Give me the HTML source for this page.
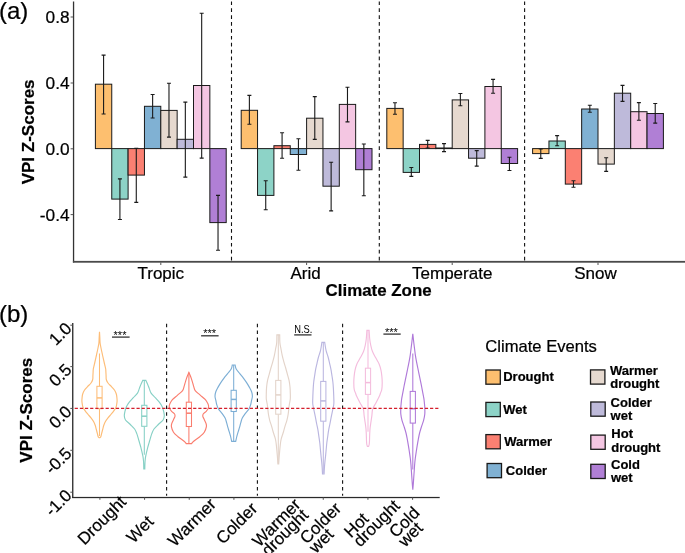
<!DOCTYPE html>
<html><head><meta charset="utf-8"><style>
html,body{margin:0;padding:0;background:#fff;width:685px;height:553px;overflow:hidden}
svg{display:block;will-change:transform}
text{font-family:"Liberation Sans", sans-serif;fill:#000;stroke:#000;stroke-width:0.22px}
</style></head><body>
<svg width="685" height="553" viewBox="0 0 685 553">
<rect width="685" height="553" fill="#fff"/>
<line x1="231.5" y1="1.4" x2="231.5" y2="260.5" stroke="#111" stroke-width="1.1" stroke-dasharray="3.7 3.2"/>
<line x1="379.3" y1="1.4" x2="379.3" y2="260.5" stroke="#111" stroke-width="1.1" stroke-dasharray="3.7 3.2"/>
<line x1="524.6" y1="1.4" x2="524.6" y2="260.5" stroke="#111" stroke-width="1.1" stroke-dasharray="3.7 3.2"/>
<rect x="95.40" y="84.20" width="16.35" height="64.40" fill="#FDBF6F" stroke="#1a1a1a" stroke-width="1"/>
<rect x="111.75" y="148.60" width="16.35" height="50.50" fill="#8DD3C7" stroke="#1a1a1a" stroke-width="1"/>
<rect x="128.10" y="148.60" width="16.35" height="26.50" fill="#FB8072" stroke="#1a1a1a" stroke-width="1"/>
<rect x="144.45" y="106.30" width="16.35" height="42.30" fill="#80B1D3" stroke="#1a1a1a" stroke-width="1"/>
<rect x="160.80" y="110.40" width="16.35" height="38.20" fill="#E6D9CF" stroke="#1a1a1a" stroke-width="1"/>
<rect x="177.15" y="139.30" width="16.35" height="9.30" fill="#BEBADA" stroke="#1a1a1a" stroke-width="1"/>
<rect x="193.50" y="85.50" width="16.35" height="63.10" fill="#F4C6E2" stroke="#1a1a1a" stroke-width="1"/>
<rect x="209.85" y="148.60" width="16.35" height="74.00" fill="#B07FD5" stroke="#1a1a1a" stroke-width="1"/>
<path d="M103.58 55.10V114.00M101.58 55.10H105.58M101.58 114.00H105.58" stroke="#1a1a1a" stroke-width="1.1" fill="none"/>
<path d="M119.92 178.90V219.50M117.92 178.90H121.92M117.92 219.50H121.92" stroke="#1a1a1a" stroke-width="1.1" fill="none"/>
<path d="M136.28 148.30V202.40M134.28 148.30H138.28M134.28 202.40H138.28" stroke="#1a1a1a" stroke-width="1.1" fill="none"/>
<path d="M152.63 94.50V118.00M150.63 94.50H154.63M150.63 118.00H154.63" stroke="#1a1a1a" stroke-width="1.1" fill="none"/>
<path d="M168.98 83.20V137.10M166.98 83.20H170.98M166.98 137.10H170.98" stroke="#1a1a1a" stroke-width="1.1" fill="none"/>
<path d="M185.33 102.10V177.10M183.33 102.10H187.33M183.33 177.10H187.33" stroke="#1a1a1a" stroke-width="1.1" fill="none"/>
<path d="M201.68 13.30V158.10M199.68 13.30H203.68M199.68 158.10H203.68" stroke="#1a1a1a" stroke-width="1.1" fill="none"/>
<path d="M218.03 195.40V250.20M216.03 195.40H220.03M216.03 250.20H220.03" stroke="#1a1a1a" stroke-width="1.1" fill="none"/>
<rect x="241.20" y="110.30" width="16.35" height="38.30" fill="#FDBF6F" stroke="#1a1a1a" stroke-width="1"/>
<rect x="257.55" y="148.60" width="16.35" height="46.80" fill="#8DD3C7" stroke="#1a1a1a" stroke-width="1"/>
<rect x="273.90" y="145.70" width="16.35" height="2.90" fill="#FB8072" stroke="#1a1a1a" stroke-width="1"/>
<rect x="290.25" y="148.60" width="16.35" height="5.90" fill="#80B1D3" stroke="#1a1a1a" stroke-width="1"/>
<rect x="306.60" y="118.20" width="16.35" height="30.40" fill="#E6D9CF" stroke="#1a1a1a" stroke-width="1"/>
<rect x="322.95" y="148.60" width="16.35" height="37.60" fill="#BEBADA" stroke="#1a1a1a" stroke-width="1"/>
<rect x="339.30" y="104.40" width="16.35" height="44.20" fill="#F4C6E2" stroke="#1a1a1a" stroke-width="1"/>
<rect x="355.65" y="148.60" width="16.35" height="21.10" fill="#B07FD5" stroke="#1a1a1a" stroke-width="1"/>
<path d="M249.38 95.40V124.30M247.38 95.40H251.38M247.38 124.30H251.38" stroke="#1a1a1a" stroke-width="1.1" fill="none"/>
<path d="M265.73 180.70V209.80M263.73 180.70H267.73M263.73 209.80H267.73" stroke="#1a1a1a" stroke-width="1.1" fill="none"/>
<path d="M282.08 132.70V158.30M280.08 132.70H284.08M280.08 158.30H284.08" stroke="#1a1a1a" stroke-width="1.1" fill="none"/>
<path d="M298.43 138.70V170.30M296.43 138.70H300.43M296.43 170.30H300.43" stroke="#1a1a1a" stroke-width="1.1" fill="none"/>
<path d="M314.78 96.60V139.40M312.78 96.60H316.78M312.78 139.40H316.78" stroke="#1a1a1a" stroke-width="1.1" fill="none"/>
<path d="M331.13 162.20V210.90M329.13 162.20H333.13M329.13 210.90H333.13" stroke="#1a1a1a" stroke-width="1.1" fill="none"/>
<path d="M347.48 87.30V121.90M345.48 87.30H349.48M345.48 121.90H349.48" stroke="#1a1a1a" stroke-width="1.1" fill="none"/>
<path d="M363.83 144.00V195.80M361.83 144.00H365.83M361.83 195.80H365.83" stroke="#1a1a1a" stroke-width="1.1" fill="none"/>
<rect x="386.80" y="108.40" width="16.35" height="40.20" fill="#FDBF6F" stroke="#1a1a1a" stroke-width="1"/>
<rect x="403.15" y="148.60" width="16.35" height="23.80" fill="#8DD3C7" stroke="#1a1a1a" stroke-width="1"/>
<rect x="419.50" y="144.40" width="16.35" height="4.20" fill="#FB8072" stroke="#1a1a1a" stroke-width="1"/>
<rect x="435.85" y="148.00" width="16.35" height="0.60" fill="#80B1D3" stroke="#1a1a1a" stroke-width="1"/>
<rect x="452.20" y="99.90" width="16.35" height="48.70" fill="#E6D9CF" stroke="#1a1a1a" stroke-width="1"/>
<rect x="468.55" y="148.60" width="16.35" height="9.60" fill="#BEBADA" stroke="#1a1a1a" stroke-width="1"/>
<rect x="484.90" y="86.50" width="16.35" height="62.10" fill="#F4C6E2" stroke="#1a1a1a" stroke-width="1"/>
<rect x="501.25" y="148.60" width="16.35" height="14.90" fill="#B07FD5" stroke="#1a1a1a" stroke-width="1"/>
<path d="M394.97 102.80V114.20M392.97 102.80H396.97M392.97 114.20H396.97" stroke="#1a1a1a" stroke-width="1.1" fill="none"/>
<path d="M411.32 167.50V176.40M409.32 167.50H413.32M409.32 176.40H413.32" stroke="#1a1a1a" stroke-width="1.1" fill="none"/>
<path d="M427.67 140.40V148.00M425.67 140.40H429.67M425.67 148.00H429.67" stroke="#1a1a1a" stroke-width="1.1" fill="none"/>
<path d="M444.02 143.60V151.60M442.02 143.60H446.02M442.02 151.60H446.02" stroke="#1a1a1a" stroke-width="1.1" fill="none"/>
<path d="M460.37 93.50V105.80M458.37 93.50H462.37M458.37 105.80H462.37" stroke="#1a1a1a" stroke-width="1.1" fill="none"/>
<path d="M476.72 150.60V166.10M474.72 150.60H478.72M474.72 166.10H478.72" stroke="#1a1a1a" stroke-width="1.1" fill="none"/>
<path d="M493.07 79.40V93.30M491.07 79.40H495.07M491.07 93.30H495.07" stroke="#1a1a1a" stroke-width="1.1" fill="none"/>
<path d="M509.43 157.20V170.50M507.43 157.20H511.43M507.43 170.50H511.43" stroke="#1a1a1a" stroke-width="1.1" fill="none"/>
<rect x="532.60" y="148.60" width="16.35" height="5.00" fill="#FDBF6F" stroke="#1a1a1a" stroke-width="1"/>
<rect x="548.95" y="141.00" width="16.35" height="7.60" fill="#8DD3C7" stroke="#1a1a1a" stroke-width="1"/>
<rect x="565.30" y="148.60" width="16.35" height="35.50" fill="#FB8072" stroke="#1a1a1a" stroke-width="1"/>
<rect x="581.65" y="109.00" width="16.35" height="39.60" fill="#80B1D3" stroke="#1a1a1a" stroke-width="1"/>
<rect x="598.00" y="148.60" width="16.35" height="15.50" fill="#E6D9CF" stroke="#1a1a1a" stroke-width="1"/>
<rect x="614.35" y="93.20" width="16.35" height="55.40" fill="#BEBADA" stroke="#1a1a1a" stroke-width="1"/>
<rect x="630.70" y="111.70" width="16.35" height="36.90" fill="#F4C6E2" stroke="#1a1a1a" stroke-width="1"/>
<rect x="647.05" y="113.50" width="16.35" height="35.10" fill="#B07FD5" stroke="#1a1a1a" stroke-width="1"/>
<path d="M540.77 149.00V158.40M538.77 149.00H542.77M538.77 158.40H542.77" stroke="#1a1a1a" stroke-width="1.1" fill="none"/>
<path d="M557.12 135.60V145.80M555.12 135.60H559.12M555.12 145.80H559.12" stroke="#1a1a1a" stroke-width="1.1" fill="none"/>
<path d="M573.48 180.80V187.30M571.48 180.80H575.48M571.48 187.30H575.48" stroke="#1a1a1a" stroke-width="1.1" fill="none"/>
<path d="M589.82 105.30V112.20M587.82 105.30H591.82M587.82 112.20H591.82" stroke="#1a1a1a" stroke-width="1.1" fill="none"/>
<path d="M606.17 157.80V171.40M604.17 157.80H608.17M604.17 171.40H608.17" stroke="#1a1a1a" stroke-width="1.1" fill="none"/>
<path d="M622.52 85.40V101.40M620.52 85.40H624.52M620.52 101.40H624.52" stroke="#1a1a1a" stroke-width="1.1" fill="none"/>
<path d="M638.88 102.60V120.20M636.88 102.60H640.88M636.88 120.20H640.88" stroke="#1a1a1a" stroke-width="1.1" fill="none"/>
<path d="M655.23 103.50V123.10M653.23 103.50H657.23M653.23 123.10H657.23" stroke="#1a1a1a" stroke-width="1.1" fill="none"/>
<rect x="72.9" y="1.5" width="1.3" height="261" fill="#333"/>
<rect x="72.9" y="260.9" width="613" height="1.8" fill="#4a4a4a"/>
<rect x="70.6" y="16.50" width="2.5" height="1" fill="#555"/>
<text x="69.6" y="23.20" font-size="17.3" text-anchor="end">0.8</text>
<rect x="70.6" y="82.50" width="2.5" height="1" fill="#555"/>
<text x="69.6" y="89.20" font-size="17.3" text-anchor="end">0.4</text>
<rect x="70.6" y="148.30" width="2.5" height="1" fill="#555"/>
<text x="69.6" y="155.00" font-size="17.3" text-anchor="end">0.0</text>
<rect x="70.6" y="214.10" width="2.5" height="1" fill="#555"/>
<text x="69.6" y="220.80" font-size="17.3" text-anchor="end">-0.4</text>
<rect x="160.30" y="262.5" width="1" height="2.5" fill="#555"/>
<text x="160.80" y="279.0" font-size="17" text-anchor="middle">Tropic</text>
<rect x="306.10" y="262.5" width="1" height="2.5" fill="#555"/>
<text x="305.60" y="279.0" font-size="17" text-anchor="middle">Arid</text>
<rect x="451.70" y="262.5" width="1" height="2.5" fill="#555"/>
<text x="452.20" y="279.0" font-size="17" text-anchor="middle">Temperate</text>
<rect x="597.50" y="262.5" width="1" height="2.5" fill="#555"/>
<text x="595.50" y="279.0" font-size="17" text-anchor="middle">Snow</text>
<text x="378.6" y="295.7" font-size="16.9" font-weight="bold" text-anchor="middle">Climate Zone</text>
<text transform="translate(34.4,131.9) rotate(-90)" font-size="17" font-weight="bold" text-anchor="middle">VPI Z-Scores</text>
<text x="-1" y="18.8" font-size="24">(a)</text>
<line x1="166.6" y1="323.8" x2="166.6" y2="495.8" stroke="#111" stroke-width="1.1" stroke-dasharray="3.5 3.3"/>
<line x1="257.4" y1="323.8" x2="257.4" y2="495.8" stroke="#111" stroke-width="1.1" stroke-dasharray="3.5 3.3"/>
<line x1="342.6" y1="323.8" x2="342.6" y2="495.8" stroke="#111" stroke-width="1.1" stroke-dasharray="3.5 3.3"/>
<path d="M99.50 331.80C99.55 332.67 99.70 335.13 99.80 337.00C99.90 338.87 99.90 341.17 100.10 343.00C100.30 344.83 100.60 346.00 101.00 348.00C101.40 350.00 101.97 352.58 102.50 355.00C103.03 357.42 103.82 360.83 104.20 362.50C104.58 364.17 104.55 363.92 104.80 365.00C105.05 366.08 105.52 367.80 105.70 369.00C105.88 370.20 105.83 371.03 105.90 372.20C105.97 373.37 106.03 374.78 106.10 376.00C106.17 377.22 105.98 378.33 106.30 379.50C106.62 380.67 107.13 381.80 108.00 383.00C108.87 384.20 110.40 385.48 111.50 386.70C112.60 387.92 113.80 389.08 114.60 390.30C115.40 391.52 115.92 392.78 116.30 394.00C116.68 395.22 116.77 396.43 116.90 397.60C117.03 398.77 117.12 400.00 117.10 401.00C117.08 402.00 116.98 402.57 116.80 403.60C116.62 404.63 116.50 405.98 116.00 407.20C115.50 408.42 114.65 409.68 113.80 410.90C112.95 412.12 111.90 413.30 110.90 414.50C109.90 415.70 108.73 416.90 107.80 418.10C106.87 419.30 105.97 420.50 105.30 421.70C104.63 422.90 104.22 424.08 103.80 425.30C103.38 426.52 103.12 427.80 102.80 429.00C102.48 430.20 102.22 431.25 101.90 432.50C101.58 433.75 101.23 435.63 100.90 436.50C100.57 437.37 100.07 437.50 99.90 437.70L99.10 437.70C98.93 437.50 98.43 437.37 98.10 436.50C97.77 435.63 97.42 433.75 97.10 432.50C96.78 431.25 96.52 430.20 96.20 429.00C95.88 427.80 95.62 426.52 95.20 425.30C94.78 424.08 94.37 422.90 93.70 421.70C93.03 420.50 92.13 419.30 91.20 418.10C90.27 416.90 89.10 415.70 88.10 414.50C87.10 413.30 86.05 412.12 85.20 410.90C84.35 409.68 83.50 408.42 83.00 407.20C82.50 405.98 82.38 404.63 82.20 403.60C82.02 402.57 81.92 402.00 81.90 401.00C81.88 400.00 81.97 398.77 82.10 397.60C82.23 396.43 82.32 395.22 82.70 394.00C83.08 392.78 83.60 391.52 84.40 390.30C85.20 389.08 86.40 387.92 87.50 386.70C88.60 385.48 90.13 384.20 91.00 383.00C91.87 381.80 92.38 380.67 92.70 379.50C93.02 378.33 92.83 377.22 92.90 376.00C92.97 374.78 93.03 373.37 93.10 372.20C93.17 371.03 93.12 370.20 93.30 369.00C93.48 367.80 93.95 366.08 94.20 365.00C94.45 363.92 94.42 364.17 94.80 362.50C95.18 360.83 95.97 357.42 96.50 355.00C97.03 352.58 97.60 350.00 98.00 348.00C98.40 346.00 98.70 344.83 98.90 343.00C99.10 341.17 99.10 338.87 99.20 337.00C99.30 335.13 99.45 332.67 99.50 331.80Z" fill="none" stroke="#FDBD78" stroke-width="1.15"/>
<path d="M99.50 353.50V386.30M99.50 408.70V436.00" stroke="#FDBD78" stroke-width="1.05" fill="none"/>
<rect x="96.90" y="386.30" width="5.20" height="22.40" fill="#fff" stroke="#FDBD78" stroke-width="1.05"/>
<path d="M96.90 397.90H102.10" stroke="#FDBD78" stroke-width="1.5"/>
<path d="M145.90 380.40C146.17 381.00 146.93 382.63 147.50 384.00C148.07 385.37 148.70 387.08 149.30 388.60C149.90 390.12 150.12 391.60 151.10 393.10C152.08 394.60 153.83 396.10 155.20 397.60C156.57 399.10 158.13 400.58 159.30 402.10C160.47 403.62 161.48 405.18 162.20 406.70C162.92 408.22 163.25 409.70 163.60 411.20C163.95 412.70 164.38 414.23 164.30 415.70C164.22 417.17 164.10 418.53 163.10 420.00C162.10 421.47 159.82 423.00 158.30 424.50C156.78 426.00 155.08 427.48 154.00 429.00C152.92 430.52 152.40 432.08 151.80 433.60C151.20 435.12 150.85 436.60 150.40 438.10C149.95 439.60 149.53 441.10 149.10 442.60C148.67 444.10 148.20 445.58 147.80 447.10C147.40 448.62 147.05 450.18 146.70 451.70C146.35 453.22 145.97 454.70 145.70 456.20C145.43 457.70 145.23 459.32 145.10 460.70C144.97 462.08 144.95 463.13 144.90 464.50C144.85 465.87 144.82 468.17 144.80 468.90L143.80 468.90C143.78 468.17 143.75 465.87 143.70 464.50C143.65 463.13 143.63 462.08 143.50 460.70C143.37 459.32 143.17 457.70 142.90 456.20C142.63 454.70 142.25 453.22 141.90 451.70C141.55 450.18 141.20 448.62 140.80 447.10C140.40 445.58 139.93 444.10 139.50 442.60C139.07 441.10 138.65 439.60 138.20 438.10C137.75 436.60 137.40 435.12 136.80 433.60C136.20 432.08 135.68 430.52 134.60 429.00C133.52 427.48 131.82 426.00 130.30 424.50C128.78 423.00 126.50 421.47 125.50 420.00C124.50 418.53 124.38 417.17 124.30 415.70C124.22 414.23 124.65 412.70 125.00 411.20C125.35 409.70 125.68 408.22 126.40 406.70C127.12 405.18 128.13 403.62 129.30 402.10C130.47 400.58 132.03 399.10 133.40 397.60C134.77 396.10 136.52 394.60 137.50 393.10C138.48 391.60 138.70 390.12 139.30 388.60C139.90 387.08 140.53 385.37 141.10 384.00C141.67 382.63 142.43 381.00 142.70 380.40Z" fill="none" stroke="#86D0C5" stroke-width="1.15"/>
<path d="M144.30 380.60V405.30M144.30 426.30V454.80" stroke="#86D0C5" stroke-width="1.05" fill="none"/>
<rect x="141.70" y="405.30" width="5.20" height="21.00" fill="#fff" stroke="#86D0C5" stroke-width="1.05"/>
<path d="M141.70 416.20H146.90" stroke="#86D0C5" stroke-width="1.5"/>
<path d="M188.90 372.50C189.22 373.25 190.23 375.48 190.80 377.00C191.37 378.52 191.83 380.08 192.30 381.60C192.77 383.12 193.12 384.60 193.60 386.10C194.08 387.60 194.10 389.10 195.20 390.60C196.30 392.10 198.50 393.58 200.20 395.10C201.90 396.62 204.08 398.18 205.40 399.70C206.72 401.22 207.57 403.07 208.10 404.20C208.63 405.33 208.62 405.73 208.60 406.50C208.58 407.27 208.40 408.00 208.00 408.80C207.60 409.60 207.00 410.43 206.20 411.30C205.40 412.17 203.77 413.17 203.20 414.00C202.63 414.83 202.70 415.53 202.80 416.30C202.90 417.07 203.28 417.47 203.80 418.60C204.32 419.73 205.47 421.75 205.90 423.10C206.33 424.45 206.67 425.18 206.40 426.70C206.13 428.22 205.40 430.53 204.30 432.20C203.20 433.87 201.57 435.20 199.80 436.70C198.03 438.20 195.07 440.05 193.70 441.20C192.33 442.35 191.95 443.20 191.60 443.60L186.20 443.60C185.85 443.20 185.47 442.35 184.10 441.20C182.73 440.05 179.77 438.20 178.00 436.70C176.23 435.20 174.60 433.87 173.50 432.20C172.40 430.53 171.67 428.22 171.40 426.70C171.13 425.18 171.47 424.45 171.90 423.10C172.33 421.75 173.48 419.73 174.00 418.60C174.52 417.47 174.90 417.07 175.00 416.30C175.10 415.53 175.17 414.83 174.60 414.00C174.03 413.17 172.40 412.17 171.60 411.30C170.80 410.43 170.20 409.60 169.80 408.80C169.40 408.00 169.22 407.27 169.20 406.50C169.18 405.73 169.17 405.33 169.70 404.20C170.23 403.07 171.08 401.22 172.40 399.70C173.72 398.18 175.90 396.62 177.60 395.10C179.30 393.58 181.50 392.10 182.60 390.60C183.70 389.10 183.72 387.60 184.20 386.10C184.68 384.60 185.03 383.12 185.50 381.60C185.97 380.08 186.43 378.52 187.00 377.00C187.57 375.48 188.58 373.25 188.90 372.50Z" fill="none" stroke="#FA7D6E" stroke-width="1.15"/>
<path d="M188.90 372.50V402.20M188.90 426.50V443.40" stroke="#FA7D6E" stroke-width="1.05" fill="none"/>
<rect x="186.30" y="402.20" width="5.20" height="24.30" fill="#fff" stroke="#FA7D6E" stroke-width="1.05"/>
<path d="M186.30 413.20H191.50" stroke="#FA7D6E" stroke-width="1.5"/>
<path d="M235.10 365.00C235.28 365.67 235.42 367.57 236.20 369.00C236.98 370.43 238.60 372.08 239.80 373.60C241.00 375.12 242.27 376.60 243.40 378.10C244.53 379.60 245.62 381.10 246.60 382.60C247.58 384.10 248.47 385.58 249.30 387.10C250.13 388.62 251.08 390.18 251.60 391.70C252.12 393.22 252.42 394.70 252.40 396.20C252.38 397.70 251.78 399.32 251.50 400.70C251.22 402.08 251.13 403.12 250.70 404.50C250.27 405.88 249.82 407.48 248.90 409.00C247.98 410.52 246.30 412.08 245.20 413.60C244.10 415.12 243.03 416.60 242.30 418.10C241.57 419.60 241.25 421.10 240.80 422.60C240.35 424.10 240.03 425.58 239.60 427.10C239.17 428.62 238.65 430.18 238.20 431.70C237.75 433.22 237.32 434.60 236.90 436.20C236.48 437.80 235.90 440.45 235.70 441.30L231.70 441.30C231.50 440.45 230.92 437.80 230.50 436.20C230.08 434.60 229.65 433.22 229.20 431.70C228.75 430.18 228.23 428.62 227.80 427.10C227.37 425.58 227.05 424.10 226.60 422.60C226.15 421.10 225.83 419.60 225.10 418.10C224.37 416.60 223.30 415.12 222.20 413.60C221.10 412.08 219.42 410.52 218.50 409.00C217.58 407.48 217.13 405.88 216.70 404.50C216.27 403.12 216.18 402.08 215.90 400.70C215.62 399.32 215.02 397.70 215.00 396.20C214.98 394.70 215.28 393.22 215.80 391.70C216.32 390.18 217.27 388.62 218.10 387.10C218.93 385.58 219.82 384.10 220.80 382.60C221.78 381.10 222.87 379.60 224.00 378.10C225.13 376.60 226.40 375.12 227.60 373.60C228.80 372.08 230.42 370.43 231.20 369.00C231.98 367.57 232.12 365.67 232.30 365.00Z" fill="none" stroke="#7CAED5" stroke-width="1.15"/>
<path d="M233.70 365.00V390.30M233.70 411.50V441.00" stroke="#7CAED5" stroke-width="1.05" fill="none"/>
<rect x="231.10" y="390.30" width="5.20" height="21.20" fill="#fff" stroke="#7CAED5" stroke-width="1.05"/>
<path d="M231.10 399.40H236.30" stroke="#7CAED5" stroke-width="1.5"/>
<path d="M279.70 334.80C279.73 336.12 279.68 340.33 279.90 342.70C280.12 345.07 280.62 346.90 281.00 349.00C281.38 351.10 281.73 353.20 282.20 355.30C282.67 357.40 283.22 359.48 283.80 361.60C284.38 363.72 285.10 365.88 285.70 368.00C286.30 370.12 286.83 372.20 287.40 374.30C287.97 376.40 288.67 378.48 289.10 380.60C289.53 382.72 289.80 384.88 290.00 387.00C290.20 389.12 290.25 391.30 290.30 393.30C290.35 395.30 290.45 397.22 290.30 399.00C290.15 400.78 289.63 402.55 289.40 404.00C289.17 405.45 289.10 406.03 288.90 407.70C288.70 409.37 288.53 411.90 288.20 414.00C287.87 416.10 287.45 418.20 286.90 420.30C286.35 422.40 285.53 424.48 284.90 426.60C284.27 428.72 283.73 430.88 283.10 433.00C282.47 435.12 281.58 437.20 281.10 439.30C280.62 441.40 280.45 443.48 280.20 445.60C279.95 447.72 279.78 449.93 279.60 452.00C279.42 454.07 279.25 456.00 279.10 458.00C278.95 460.00 278.77 463.00 278.70 464.00L277.90 464.00C277.83 463.00 277.65 460.00 277.50 458.00C277.35 456.00 277.18 454.07 277.00 452.00C276.82 449.93 276.65 447.72 276.40 445.60C276.15 443.48 275.98 441.40 275.50 439.30C275.02 437.20 274.13 435.12 273.50 433.00C272.87 430.88 272.33 428.72 271.70 426.60C271.07 424.48 270.25 422.40 269.70 420.30C269.15 418.20 268.73 416.10 268.40 414.00C268.07 411.90 267.90 409.37 267.70 407.70C267.50 406.03 267.43 405.45 267.20 404.00C266.97 402.55 266.45 400.78 266.30 399.00C266.15 397.22 266.25 395.30 266.30 393.30C266.35 391.30 266.40 389.12 266.60 387.00C266.80 384.88 267.07 382.72 267.50 380.60C267.93 378.48 268.63 376.40 269.20 374.30C269.77 372.20 270.30 370.12 270.90 368.00C271.50 365.88 272.22 363.72 272.80 361.60C273.38 359.48 273.93 357.40 274.40 355.30C274.87 353.20 275.22 351.10 275.60 349.00C275.98 346.90 276.48 345.07 276.70 342.70C276.92 340.33 276.87 336.12 276.90 334.80Z" fill="none" stroke="#E3D3C9" stroke-width="1.15"/>
<path d="M278.30 334.80V380.40M278.30 414.20V463.50" stroke="#E3D3C9" stroke-width="1.05" fill="none"/>
<rect x="275.70" y="380.40" width="5.20" height="33.80" fill="#fff" stroke="#E3D3C9" stroke-width="1.05"/>
<path d="M275.70 394.90H280.90" stroke="#E3D3C9" stroke-width="1.5"/>
<path d="M324.70 342.40C324.93 343.78 325.53 348.27 326.10 350.70C326.67 353.13 327.52 354.90 328.10 357.00C328.68 359.10 329.12 361.20 329.60 363.30C330.08 365.40 330.60 367.48 331.00 369.60C331.40 371.72 331.68 373.88 332.00 376.00C332.32 378.12 332.67 380.20 332.90 382.30C333.13 384.40 333.27 386.48 333.40 388.60C333.53 390.72 333.62 392.88 333.70 395.00C333.78 397.12 333.90 399.63 333.90 401.30C333.90 402.97 333.95 403.33 333.70 405.00C333.45 406.67 332.83 409.18 332.40 411.30C331.97 413.42 331.52 415.58 331.10 417.70C330.68 419.82 330.32 421.90 329.90 424.00C329.48 426.10 328.97 428.20 328.60 430.30C328.23 432.40 328.00 434.48 327.70 436.60C327.40 438.72 327.05 440.88 326.80 443.00C326.55 445.12 326.40 447.20 326.20 449.30C326.00 451.40 325.82 453.48 325.60 455.60C325.38 457.72 325.10 459.93 324.90 462.00C324.70 464.07 324.53 466.00 324.40 468.00C324.27 470.00 324.15 473.00 324.10 474.00L322.50 474.00C322.45 473.00 322.33 470.00 322.20 468.00C322.07 466.00 321.90 464.07 321.70 462.00C321.50 459.93 321.22 457.72 321.00 455.60C320.78 453.48 320.60 451.40 320.40 449.30C320.20 447.20 320.05 445.12 319.80 443.00C319.55 440.88 319.20 438.72 318.90 436.60C318.60 434.48 318.37 432.40 318.00 430.30C317.63 428.20 317.12 426.10 316.70 424.00C316.28 421.90 315.92 419.82 315.50 417.70C315.08 415.58 314.63 413.42 314.20 411.30C313.77 409.18 313.15 406.67 312.90 405.00C312.65 403.33 312.70 402.97 312.70 401.30C312.70 399.63 312.82 397.12 312.90 395.00C312.98 392.88 313.07 390.72 313.20 388.60C313.33 386.48 313.47 384.40 313.70 382.30C313.93 380.20 314.28 378.12 314.60 376.00C314.92 373.88 315.20 371.72 315.60 369.60C316.00 367.48 316.52 365.40 317.00 363.30C317.48 361.20 317.92 359.10 318.50 357.00C319.08 354.90 319.93 353.13 320.50 350.70C321.07 348.27 321.67 343.78 321.90 342.40Z" fill="none" stroke="#BAB6E0" stroke-width="1.15"/>
<path d="M323.30 342.40V381.40M323.30 421.20V473.50" stroke="#BAB6E0" stroke-width="1.05" fill="none"/>
<rect x="320.70" y="381.40" width="5.20" height="39.80" fill="#fff" stroke="#BAB6E0" stroke-width="1.05"/>
<path d="M320.70 400.90H325.90" stroke="#BAB6E0" stroke-width="1.5"/>
<path d="M369.10 330.40C369.20 331.78 369.43 336.27 369.70 338.70C369.97 341.13 370.25 342.90 370.70 345.00C371.15 347.10 371.58 349.20 372.40 351.30C373.22 353.40 374.48 355.48 375.60 357.60C376.72 359.72 378.20 361.88 379.10 364.00C380.00 366.12 380.53 368.20 381.00 370.30C381.47 372.40 381.70 374.48 381.90 376.60C382.10 378.72 382.22 380.88 382.20 383.00C382.18 385.12 382.08 387.63 381.80 389.30C381.52 390.97 380.92 391.83 380.50 393.00C380.08 394.17 380.05 394.68 379.30 396.30C378.55 397.92 377.10 400.58 376.00 402.70C374.90 404.82 373.38 406.90 372.70 409.00C372.02 411.10 372.18 413.20 371.90 415.30C371.62 417.40 371.30 419.48 371.00 421.60C370.70 423.72 370.32 425.88 370.10 428.00C369.88 430.12 369.80 432.20 369.70 434.30C369.60 436.40 369.58 438.90 369.50 440.60C369.42 442.30 369.35 443.55 369.20 444.50C369.05 445.45 368.70 446.00 368.60 446.30L367.40 446.30C367.30 446.00 366.95 445.45 366.80 444.50C366.65 443.55 366.58 442.30 366.50 440.60C366.42 438.90 366.40 436.40 366.30 434.30C366.20 432.20 366.12 430.12 365.90 428.00C365.68 425.88 365.30 423.72 365.00 421.60C364.70 419.48 364.38 417.40 364.10 415.30C363.82 413.20 363.98 411.10 363.30 409.00C362.62 406.90 361.10 404.82 360.00 402.70C358.90 400.58 357.45 397.92 356.70 396.30C355.95 394.68 355.92 394.17 355.50 393.00C355.08 391.83 354.48 390.97 354.20 389.30C353.92 387.63 353.82 385.12 353.80 383.00C353.78 380.88 353.90 378.72 354.10 376.60C354.30 374.48 354.53 372.40 355.00 370.30C355.47 368.20 356.00 366.12 356.90 364.00C357.80 361.88 359.28 359.72 360.40 357.60C361.52 355.48 362.78 353.40 363.60 351.30C364.42 349.20 364.85 347.10 365.30 345.00C365.75 342.90 366.03 341.13 366.30 338.70C366.57 336.27 366.80 331.78 366.90 330.40Z" fill="none" stroke="#F4BCDD" stroke-width="1.15"/>
<path d="M368.00 330.40V368.20M368.00 394.40V431.80" stroke="#F4BCDD" stroke-width="1.05" fill="none"/>
<rect x="365.40" y="368.20" width="5.20" height="26.20" fill="#fff" stroke="#F4BCDD" stroke-width="1.05"/>
<path d="M365.40 382.60H370.60" stroke="#F4BCDD" stroke-width="1.5"/>
<path d="M412.80 333.80C412.97 335.28 413.50 340.17 413.80 342.70C414.10 345.23 414.33 346.90 414.60 349.00C414.87 351.10 415.08 353.20 415.40 355.30C415.72 357.40 416.10 359.48 416.50 361.60C416.90 363.72 417.37 365.88 417.80 368.00C418.23 370.12 418.67 372.20 419.10 374.30C419.53 376.40 419.97 378.48 420.40 380.60C420.83 382.72 421.28 384.88 421.70 387.00C422.12 389.12 422.53 391.37 422.90 393.30C423.27 395.23 423.63 396.82 423.90 398.60C424.17 400.38 424.35 402.48 424.50 404.00C424.65 405.52 424.75 406.03 424.80 407.70C424.85 409.37 425.00 411.90 424.80 414.00C424.60 416.10 424.15 418.20 423.60 420.30C423.05 422.40 422.17 424.48 421.50 426.60C420.83 428.72 420.13 430.88 419.60 433.00C419.07 435.12 418.70 437.20 418.30 439.30C417.90 441.40 417.55 443.48 417.20 445.60C416.85 447.72 416.52 449.88 416.20 452.00C415.88 454.12 415.55 456.30 415.30 458.30C415.05 460.30 414.87 462.13 414.70 464.00C414.53 465.87 414.45 467.38 414.30 469.50C414.15 471.62 413.97 474.28 413.80 476.70C413.63 479.12 413.47 481.83 413.30 484.00C413.13 486.17 412.88 488.75 412.80 489.70L412.80 489.70C412.72 488.75 412.47 486.17 412.30 484.00C412.13 481.83 411.97 479.12 411.80 476.70C411.63 474.28 411.45 471.62 411.30 469.50C411.15 467.38 411.07 465.87 410.90 464.00C410.73 462.13 410.55 460.30 410.30 458.30C410.05 456.30 409.72 454.12 409.40 452.00C409.08 449.88 408.75 447.72 408.40 445.60C408.05 443.48 407.70 441.40 407.30 439.30C406.90 437.20 406.53 435.12 406.00 433.00C405.47 430.88 404.77 428.72 404.10 426.60C403.43 424.48 402.55 422.40 402.00 420.30C401.45 418.20 401.00 416.10 400.80 414.00C400.60 411.90 400.75 409.37 400.80 407.70C400.85 406.03 400.95 405.52 401.10 404.00C401.25 402.48 401.43 400.38 401.70 398.60C401.97 396.82 402.33 395.23 402.70 393.30C403.07 391.37 403.48 389.12 403.90 387.00C404.32 384.88 404.77 382.72 405.20 380.60C405.63 378.48 406.07 376.40 406.50 374.30C406.93 372.20 407.37 370.12 407.80 368.00C408.23 365.88 408.70 363.72 409.10 361.60C409.50 359.48 409.88 357.40 410.20 355.30C410.52 353.20 410.73 351.10 411.00 349.00C411.27 346.90 411.50 345.23 411.80 342.70C412.10 340.17 412.63 335.28 412.80 333.80Z" fill="none" stroke="#AF79D9" stroke-width="1.15"/>
<path d="M412.80 353.40V391.40M412.80 423.10V469.50" stroke="#AF79D9" stroke-width="1.05" fill="none"/>
<rect x="410.20" y="391.40" width="5.20" height="31.70" fill="#fff" stroke="#AF79D9" stroke-width="1.05"/>
<path d="M410.20 408.70H415.40" stroke="#AF79D9" stroke-width="1.5"/>
<line x1="74.7" y1="408.4" x2="440" y2="408.4" stroke="#D41F2C" stroke-width="1.25" stroke-dasharray="3.2 1.95"/>
<line x1="112.0" y1="337.1" x2="129.6" y2="337.1" stroke="#333" stroke-width="1.3"/>
<text x="120.0" y="338.6" font-size="11" text-anchor="middle" style="stroke:none">***</text>
<line x1="201.1" y1="335.8" x2="218.6" y2="335.8" stroke="#333" stroke-width="1.3"/>
<text x="209.6" y="337.1" font-size="11" text-anchor="middle" style="stroke:none">***</text>
<line x1="294.2" y1="334.9" x2="311.5" y2="334.9" stroke="#333" stroke-width="1.3"/>
<text transform="translate(303.2,332.7) scale(0.88,1)" font-size="10.6" text-anchor="middle" style="stroke:none">N.S.</text>
<line x1="383.4" y1="334.1" x2="400.7" y2="334.1" stroke="#333" stroke-width="1.3"/>
<text x="391.3" y="336.4" font-size="11" text-anchor="middle" style="stroke:none">***</text>
<rect x="72.1" y="323" width="1.3" height="175" fill="#262626"/>
<rect x="72.1" y="496.9" width="367.6" height="1.25" fill="#2a2a2a"/>
<rect x="70.3" y="324.70" width="2.3" height="1" fill="#555"/>
<text transform="translate(72.8,329.50) rotate(-45)" font-size="17" text-anchor="end">1.0</text>
<rect x="70.3" y="366.10" width="2.3" height="1" fill="#555"/>
<text transform="translate(72.8,370.90) rotate(-45)" font-size="17" text-anchor="end">0.5</text>
<rect x="70.3" y="407.90" width="2.3" height="1" fill="#555"/>
<text transform="translate(72.8,412.70) rotate(-45)" font-size="17" text-anchor="end">0.0</text>
<rect x="70.3" y="449.80" width="2.3" height="1" fill="#555"/>
<text transform="translate(72.8,454.60) rotate(-45)" font-size="17" text-anchor="end">-0.5</text>
<rect x="70.3" y="491.70" width="2.3" height="1" fill="#555"/>
<text transform="translate(72.8,496.50) rotate(-45)" font-size="17" text-anchor="end">-1.0</text>
<rect x="99.40" y="497.5" width="1" height="2.3" fill="#555"/>
<rect x="144.07" y="497.5" width="1" height="2.3" fill="#555"/>
<rect x="188.74" y="497.5" width="1" height="2.3" fill="#555"/>
<rect x="233.41" y="497.5" width="1" height="2.3" fill="#555"/>
<rect x="278.08" y="497.5" width="1" height="2.3" fill="#555"/>
<rect x="322.75" y="497.5" width="1" height="2.3" fill="#555"/>
<rect x="367.42" y="497.5" width="1" height="2.3" fill="#555"/>
<rect x="412.09" y="497.5" width="1" height="2.3" fill="#555"/>
<text transform="translate(84.4,545.8) rotate(-45)" font-size="17">Drought</text>
<text transform="translate(133.4,543.9) rotate(-45)" font-size="17">Wet</text>
<text transform="translate(174.8,547.6) rotate(-45)" font-size="17">Warmer</text>
<text transform="translate(223.0,545.0) rotate(-45)" font-size="17">Colder</text>
<text transform="translate(259.3,547.8) rotate(-45)" font-size="17">Warmer<tspan x="0" dy="13">drought</tspan></text>
<text transform="translate(306.8,544.8) rotate(-45)" font-size="17">Colder<tspan x="0" dy="13">wet</tspan></text>
<text transform="translate(351.0,538.5) rotate(-45)" font-size="17">Hot<tspan x="0" dy="13">drought</tspan></text>
<text transform="translate(396.0,538.6) rotate(-45)" font-size="17">Cold<tspan x="0" dy="13">wet</tspan></text>
<text transform="translate(31.7,410.2) rotate(-90)" font-size="17" font-weight="bold" text-anchor="middle">VPI Z-Scores</text>
<text x="-1" y="321.6" font-size="24">(b)</text>
<text x="485.3" y="351.6" font-size="16.6">Climate Events</text>
<rect x="485.90" y="370.00" width="14.4" height="14.2" fill="#FDBF6F" stroke="#1a1a1a" stroke-width="1.3"/>
<text x="503.20" y="380.50" font-size="13" font-weight="bold">Drought</text>
<rect x="485.90" y="402.40" width="14.4" height="14.2" fill="#8DD3C7" stroke="#1a1a1a" stroke-width="1.3"/>
<text x="503.20" y="413.70" font-size="13" font-weight="bold">Wet</text>
<rect x="485.90" y="434.60" width="14.4" height="14.2" fill="#FB8072" stroke="#1a1a1a" stroke-width="1.3"/>
<text x="504.20" y="445.90" font-size="13" font-weight="bold">Warmer</text>
<rect x="487.10" y="463.50" width="14.4" height="14.2" fill="#80B1D3" stroke="#1a1a1a" stroke-width="1.3"/>
<text x="505.80" y="475.20" font-size="13" font-weight="bold">Colder</text>
<rect x="590.50" y="369.90" width="14.4" height="14.2" fill="#E6D9CF" stroke="#1a1a1a" stroke-width="1.3"/>
<text x="609.90" y="375.30" font-size="13" font-weight="bold">Warmer</text>
<text x="610.20" y="387.80" font-size="13" font-weight="bold">drought</text>
<rect x="590.80" y="402.00" width="14.4" height="14.2" fill="#BEBADA" stroke="#1a1a1a" stroke-width="1.3"/>
<text x="610.60" y="407.10" font-size="13" font-weight="bold">Colder</text>
<text x="610.60" y="420.40" font-size="13" font-weight="bold">wet</text>
<rect x="590.80" y="435.10" width="14.4" height="14.2" fill="#F4C6E2" stroke="#1a1a1a" stroke-width="1.3"/>
<text x="611.30" y="438.40" font-size="13" font-weight="bold">Hot</text>
<text x="611.30" y="452.40" font-size="13" font-weight="bold">drought</text>
<rect x="590.80" y="464.30" width="14.4" height="14.2" fill="#B07FD5" stroke="#1a1a1a" stroke-width="1.3"/>
<text x="611.00" y="468.50" font-size="13" font-weight="bold">Cold</text>
<text x="611.00" y="482.20" font-size="13" font-weight="bold">wet</text>
</svg>
</body></html>
